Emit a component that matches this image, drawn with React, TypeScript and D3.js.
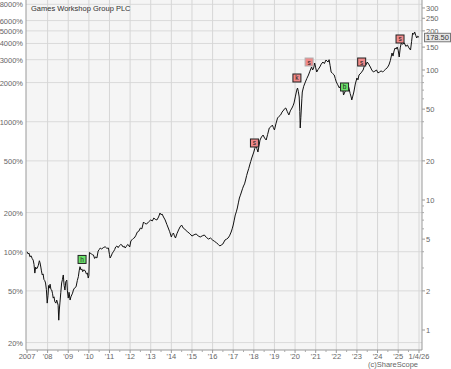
import React from "react";
import * as d3 from "d3";

const TITLE = "Games Workshop Group PLC";
const COPYRIGHT = "(c)ShareScope";
const LAST_PRICE_LABEL = "178.50";

// decimal-year dates and share prices (GBP)
const dates: number[] = [
  2007.0, 2007.05, 2007.1, 2007.14, 2007.2, 2007.25, 2007.3, 2007.34, 2007.38, 2007.42,
  2007.46, 2007.5, 2007.55, 2007.6, 2007.63, 2007.67, 2007.7, 2007.74, 2007.78, 2007.82,
  2007.86, 2007.9, 2007.94, 2007.98, 2008.02, 2008.05, 2008.08, 2008.12, 2008.16, 2008.2,
  2008.24, 2008.27, 2008.31, 2008.35, 2008.4, 2008.44, 2008.47, 2008.51, 2008.54, 2008.57,
  2008.6, 2008.64, 2008.68, 2008.72, 2008.76, 2008.8, 2008.84, 2008.88, 2008.93, 2008.96,
  2009.0, 2009.04, 2009.09, 2009.13, 2009.17, 2009.21, 2009.25, 2009.3, 2009.38, 2009.44,
  2009.49, 2009.53, 2009.57, 2009.62, 2009.66, 2009.7, 2009.75, 2009.82, 2009.88, 2009.93,
  2009.97, 2010.0, 2010.03, 2010.06, 2010.12, 2010.17, 2010.22, 2010.28, 2010.33, 2010.39,
  2010.45, 2010.5, 2010.55, 2010.62, 2010.7, 2010.79, 2010.87, 2010.95, 2011.0, 2011.03,
  2011.08, 2011.14, 2011.19, 2011.25, 2011.3, 2011.36, 2011.42, 2011.48, 2011.55, 2011.6,
  2011.66, 2011.72, 2011.76, 2011.82, 2011.88, 2011.92, 2011.98, 2012.04, 2012.1, 2012.15,
  2012.2, 2012.27, 2012.35, 2012.42, 2012.5, 2012.57, 2012.65, 2012.72, 2012.8, 2012.9,
  2013.0, 2013.08, 2013.15, 2013.22, 2013.3, 2013.38, 2013.45, 2013.5, 2013.55, 2013.62,
  2013.7, 2013.78, 2013.85, 2013.92, 2014.0, 2014.05, 2014.1, 2014.15, 2014.2, 2014.27,
  2014.35, 2014.42, 2014.5, 2014.57, 2014.65, 2014.72, 2014.8, 2014.9, 2015.0, 2015.1,
  2015.2, 2015.3, 2015.4, 2015.5, 2015.6, 2015.7, 2015.8, 2015.9, 2016.0, 2016.1,
  2016.2, 2016.28, 2016.35, 2016.42, 2016.5, 2016.55, 2016.6, 2016.68, 2016.75, 2016.82,
  2016.9, 2016.95, 2017.0, 2017.05, 2017.1, 2017.15, 2017.2, 2017.25, 2017.3, 2017.35,
  2017.4, 2017.45, 2017.5, 2017.55, 2017.6, 2017.65, 2017.7, 2017.75, 2017.8, 2017.85,
  2017.9, 2017.95, 2018.0, 2018.05, 2018.1, 2018.15, 2018.2, 2018.25, 2018.3, 2018.37,
  2018.45, 2018.52, 2018.6, 2018.67, 2018.75, 2018.82, 2018.9, 2018.95, 2019.0, 2019.07,
  2019.15, 2019.22, 2019.3, 2019.37, 2019.45, 2019.5, 2019.55, 2019.62, 2019.7, 2019.77,
  2019.85, 2019.9, 2019.95, 2020.02, 2020.08, 2020.12, 2020.16, 2020.2, 2020.23, 2020.25,
  2020.28, 2020.3, 2020.33, 2020.35, 2020.42, 2020.5, 2020.57, 2020.65, 2020.72, 2020.8,
  2020.85, 2020.9, 2020.95, 2021.0, 2021.05, 2021.12, 2021.2, 2021.27, 2021.35, 2021.42,
  2021.5, 2021.55, 2021.6, 2021.65, 2021.7, 2021.75, 2021.82, 2021.9, 2021.95, 2022.0,
  2022.07, 2022.15, 2022.22, 2022.3, 2022.35, 2022.42, 2022.5, 2022.55, 2022.6, 2022.67,
  2022.72, 2022.75, 2022.8, 2022.85, 2022.92, 2023.0, 2023.05, 2023.1, 2023.2, 2023.3,
  2023.35, 2023.4, 2023.45, 2023.5, 2023.57, 2023.65, 2023.72, 2023.8, 2023.87, 2023.95,
  2024.02, 2024.1, 2024.17, 2024.25, 2024.32, 2024.4, 2024.47, 2024.55, 2024.62, 2024.7,
  2024.75, 2024.8, 2024.85, 2024.9, 2024.95, 2025.0, 2025.05, 2025.1, 2025.15, 2025.22,
  2025.3, 2025.37, 2025.45, 2025.52, 2025.6, 2025.65, 2025.7, 2025.75, 2025.8, 2025.85,
  2025.9, 2025.95, 2026.01,
];
const prices: number[] = [
  4.0, 3.85, 3.9, 3.66, 3.72, 3.55, 3.45, 3.2, 2.74, 3.05,
  2.95, 3.0, 3.15, 3.41, 3.3, 3.05, 2.85, 2.65, 2.7, 2.45,
  2.4, 2.3, 2.05, 1.61, 1.85, 2.2, 2.1, 2.25, 2.05, 2.03,
  1.9, 1.76, 1.8, 1.65, 1.61, 1.7, 1.64, 1.55, 1.19, 1.45,
  1.64, 1.95, 2.3, 2.45, 2.65, 2.2, 2.03, 2.35, 2.42, 2.0,
  1.76, 1.95, 1.7, 1.8, 1.86, 1.92, 2.03, 2.1, 2.15, 2.4,
  2.57, 2.85, 3.07, 2.9, 2.95, 2.81, 2.9, 2.86, 2.7, 2.74,
  2.51, 2.62, 3.95, 3.91, 3.85, 3.8, 3.78, 3.55, 3.65, 3.58,
  4.05, 4.15, 4.27, 4.2, 4.3, 4.37, 4.25, 4.27, 3.8, 3.58,
  3.7, 3.9, 4.0, 4.15, 4.35, 4.43, 4.3, 4.45, 4.55, 4.51,
  4.35, 4.4, 4.27, 4.4, 4.55, 4.51, 4.35, 4.86, 4.95, 5.05,
  5.1, 5.3, 5.67, 5.75, 6.09, 6.0, 6.77, 6.6, 6.53, 6.8,
  7.02, 6.9, 7.27, 7.1, 7.02, 7.4, 7.94, 7.7, 7.8, 7.4,
  7.02, 6.5, 6.09, 5.7, 5.19, 5.45, 5.57, 5.3, 5.1, 5.5,
  5.88, 6.2, 6.42, 6.1, 5.98, 5.8, 5.67, 5.5, 5.28, 5.4,
  5.48, 5.3, 5.19, 5.3, 5.38, 5.15, 5.01, 5.1, 4.92, 4.8,
  4.67, 4.55, 4.43, 4.5, 4.59, 4.75, 4.92, 5.0, 5.1, 5.3,
  5.67, 6.0, 6.42, 7.0, 7.67, 8.1, 8.68, 9.5, 10.36, 10.9,
  11.52, 12.2, 12.82, 13.3, 14.25, 15.4, 16.42, 17.4, 18.59, 19.8,
  21.04, 22.2, 23.39, 25.0, 26.49, 24.8, 23.39, 26.0, 28.94, 30.5,
  31.6, 30.0, 28.94, 32.0, 35.8, 36.5, 37.7, 36.0, 34.56, 38.5,
  42.7, 44.0, 45.1, 47.5, 49.2, 50.5, 51.0, 48.0, 45.1, 48.5,
  51.0, 53.0, 55.8, 63.0, 70.0, 72.7, 68.0, 62.0, 48.0, 35.8,
  43.0, 49.2, 60.0, 67.7, 75.0, 80.9, 86.0, 91.5, 98.0, 105.5,
  100.0, 103.6, 113.2, 104.0, 96.5, 101.0, 105.5, 111.0, 115.2, 112.0,
  119.4, 117.0, 115.2, 120.0, 108.0, 96.5, 94.0, 91.5, 86.0, 80.9,
  77.0, 72.7, 76.0, 74.0, 64.2, 68.0, 70.2, 76.0, 74.0, 66.0,
  62.0, 58.8, 63.0, 67.7, 78.0, 86.8, 84.0, 91.5, 95.0, 100,
  106.0, 113.2, 110.0, 115.2, 111.0, 105.5, 100.0, 96.5, 98.0, 100,
  95.0, 96.5, 98.5, 96.5, 99.0, 101.8, 104.0, 109.3, 118.0, 135.1,
  128.0, 140.0, 147.6, 145.0, 150.3, 142.0, 125.9, 148.0, 161.3, 158.0,
  161.3, 152.0, 155.7, 148.0, 142.5, 165.0, 192.6, 188.0, 196.1, 185.0,
  176.3, 182.0, 178.5,
];

// trade signals
const signalDates: number[] = [2009.67, 2018.03, 2020.09, 2020.68, 2022.4, 2023.23, 2025.09];
const signalPrices: number[] = [3.49, 27.45, 86.8, 115.2, 74.0, 115.2, 173.2];
const signalLetters: string[] = ["h", "s", "k", "s", "b", "s", "s"];
const signalKinds: string[] = ["buy", "sell", "sell", "sell2", "buy", "sell", "sell"];

const pctTicks: number[] = [8000, 6000, 5000, 4000, 3000, 2000, 1000, 500, 200, 100, 50, 20];
const priceTicks: number[] = [300, 250, 200, 150, 100, 50, 20, 10, 5, 2, 1];
const yearTicks: number[] = [2007, 2008, 2009, 2010, 2011, 2012, 2013, 2014, 2015, 2016, 2017, 2018, 2019, 2020, 2021, 2022, 2023, 2024, 2025, 2026.01];
const yearLabels: string[] = ["2007", "'08", "'09", "'10", "'11", "'12", "'13", "'14", "'15", "'16", "'17", "'18", "'19", "'20", "'21", "'22", "'23", "'24", "'25", "1/4/26"];

const W = 451;
const H = 369;
const L = 26;
const R = 422;
const T = 0;
const B = 350;
const FONT = "Arial, 'Liberation Sans', sans-serif";

export default function App() {
  const x = d3.scaleLinear().domain([2007, 2026.01]).range([27, 419]);
  const y = d3.scaleLog().domain([1, 100]).range([330, 70]);
  const base = prices[0];
  const yPct = (p: number) => y((p * base) / 100);

  const pts = dates.map((d, i) => [d, prices[i]] as [number, number]);
  const line = d3
    .line<[number, number]>()
    .x((d) => x(d[0]))
    .y((d) => y(d[1]));

  const minorPrice: number[] = [];
  [1, 10, 100].forEach((dec) => {
    for (let k = 1; k < 10; k++) {
      const v = k * dec;
      if (v <= 340 && !priceTicks.includes(v)) minorPrice.push(v);
    }
  });
  const halfYears: number[] = [];
  for (let yr = 2007; yr < 2026; yr++) halfYears.push(yr + 0.5);

  const lastY = y(prices[prices.length - 1]);

  return (
    <svg width={W} height={H} style={{ position: "absolute", left: 0, top: 0, background: "#fff" }} fontFamily={FONT}>
      <defs>
        <clipPath id="plot">
          <rect x={L} y={T} width={R - L} height={B - T} />
        </clipPath>
      </defs>
      <rect x={L} y={T} width={R - L} height={B - T} fill="#f5f5f5" />
      {pctTicks.map((p) => (
        <line key={"hg" + p} x1={L} x2={R} y1={yPct(p)} y2={yPct(p)} stroke="#dadada" strokeWidth={1} />
      ))}
      {yearTicks.slice(1).map((t) => (
        <line key={"vg" + t} x1={x(t)} x2={x(t)} y1={T} y2={B} stroke="#d6d6d6" strokeWidth={1} />
      ))}
      <text x={31} y={11} fontSize={7.5} fill="#333">{TITLE}</text>
      <path d={line(pts) || ""} fill="none" stroke="#111" strokeWidth={1} clipPath="url(#plot)" />
      {signalDates.map((d, i) => {
        const cx = x(d);
        const cy = y(signalPrices[i]);
        const kind = signalKinds[i];
        const fill = kind === "buy" ? "#6be36b" : "#f08a8a";
        const stroke = kind === "sell2" ? "#b0b0b0" : "#222";
        return (
          <g key={"sig" + i}>
            <rect x={cx - 4} y={cy - 4} width={8} height={8} fill={fill} stroke={stroke} strokeWidth={1} />
            <text x={cx} y={cy + 2.5} fontSize={6.5} textAnchor="middle" fill="#222">{signalLetters[i]}</text>
          </g>
        );
      })}
      <line x1={L} x2={L} y1={T} y2={B} stroke="#999" />
      <line x1={R} x2={R} y1={T} y2={B} stroke="#999" />
      <line x1={L} x2={R} y1={B} y2={B} stroke="#999" />
      {pctTicks.map((p) => (
        <text key={"pl" + p} x={23} y={yPct(p) + 3} fontSize={7.5} textAnchor="end" fill="#666">{p + "%"}</text>
      ))}
      {priceTicks.map((p) => (
        <g key={"pr" + p}>
          <line x1={R} x2={R + 3} y1={y(p)} y2={y(p)} stroke="#999" />
          <text x={R + 4} y={y(p) + 3} fontSize={7.5} fill="#666">{p}</text>
        </g>
      ))}
      {minorPrice.map((p) => (
        <line key={"mp" + p} x1={R} x2={R + 2} y1={y(p)} y2={y(p)} stroke="#aaa" />
      ))}
      {yearTicks.map((t, i) => (
        <g key={"xt" + t}>
          <line x1={x(t)} x2={x(t)} y1={B} y2={B + 3} stroke="#999" />
          <text x={x(t)} y={359} fontSize={7.5} textAnchor="middle" fill="#666">{yearLabels[i]}</text>
        </g>
      ))}
      {halfYears.map((t) => (
        <line key={"hy" + t} x1={x(t)} x2={x(t)} y1={B} y2={B + 2} stroke="#aaa" />
      ))}
      <text x={418} y={367} fontSize={7.5} textAnchor="end" fill="#666">{COPYRIGHT}</text>
      <rect x={424.5} y={lastY - 4} width={26} height={8.5} fill="#e6e6e6" stroke="#777" />
      <text x={437.5} y={lastY + 2.8} fontSize={7.5} textAnchor="middle" fill="#333">{LAST_PRICE_LABEL}</text>
    </svg>
  );
}
